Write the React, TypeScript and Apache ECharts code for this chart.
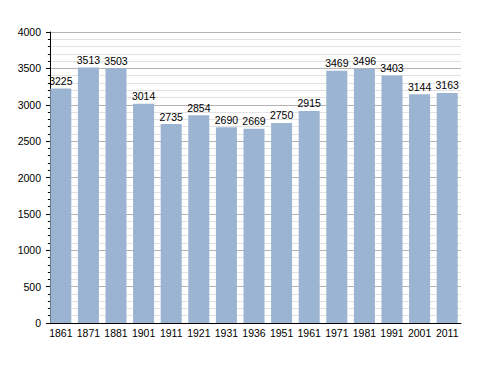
import React, { useEffect, useRef } from "react";
import * as echarts from "echarts";

const years = ["1861", "1871", "1881", "1901", "1911", "1921", "1931", "1936", "1951", "1961", "1971", "1981", "1991", "2001", "2011"];
const population = [3225, 3513, 3503, 3014, 2735, 2854, 2690, 2669, 2750, 2915, 3469, 3496, 3403, 3144, 3163];

const FONT = "Liberation Sans, Arial, sans-serif";

export default function App() {
  const ref = useRef<HTMLDivElement>(null);
  useEffect(() => {
    const chart = echarts.init(ref.current!, null, { renderer: "svg" });
    chart.setOption({
      animation: false,
      grid: { left: 47, right: 27, top: 32, bottom: 50 },
      xAxis: {
        type: "category",
        data: years,
        axisLine: { lineStyle: { color: "#000", width: 1 } },
        axisTick: { show: false },
        axisLabel: { color: "#000", fontSize: 10.5, fontFamily: FONT, margin: 4, interval: 0 },
      },
      yAxis: {
        type: "value",
        min: 0,
        max: 4000,
        interval: 500,
        offset: -3,
        axisLine: { show: true, lineStyle: { color: "#000", width: 1 } },
        axisTick: { show: true, length: 4, lineStyle: { color: "#000" } },
        minorTick: { show: true, splitNumber: 5, length: 2, lineStyle: { color: "#000" } },
        axisLabel: {
          color: "#000",
          fontSize: 10.5,
          fontFamily: FONT,
          margin: 9,
          formatter: (v: number) => String(v),
        },
        splitLine: { show: true, lineStyle: { color: "#b4b4b4", width: 1 } },
        minorSplitLine: { show: true, lineStyle: { color: "#e2e2e2", width: 1 } },
      },
      series: [
        {
          type: "bar",
          data: population,
          barWidth: 21,
          itemStyle: { color: "#9bb4d1" },
          label: {
            show: true,
            position: "top",
            distance: 2,
            color: "#000",
            fontSize: 10.5,
            fontFamily: FONT,
          },
        },
      ],
    });
    return () => chart.dispose();
  }, []);
  return <div ref={ref} style={{ width: 488, height: 373, position: "absolute", left: 0, top: 0, background: "#fff" }} />;
}
